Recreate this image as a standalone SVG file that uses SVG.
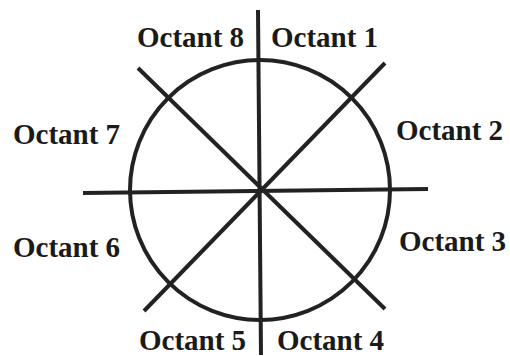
<svg xmlns="http://www.w3.org/2000/svg" width="510" height="356" viewBox="0 0 510 356">
<style>
.ln{stroke:#222;stroke-width:4;fill:none;stroke-linecap:butt}
.lb{font-family:"Liberation Serif","Times New Roman",serif;font-weight:bold;font-size:29px;fill:#1a1a1a}
</style>
<rect width="510" height="356" fill="#fff"/>
<g id="circle"><circle class="ln" cx="260" cy="190" r="130"/></g>
<g id="connectors">
<line class="ln" x1="258" y1="10" x2="261" y2="355"/>
<line class="ln" x1="83" y1="193" x2="428" y2="189"/>
<line class="ln" x1="138" y1="68" x2="385" y2="309"/>
<line class="ln" x1="385" y1="63" x2="144" y2="311"/>
</g>
<g id="o8"><text class="lb" x="137" y="47">Octant 8</text></g>
<g id="o1"><text class="lb" x="271" y="47">Octant 1</text></g>
<g id="o7"><text class="lb" x="13" y="144">Octant 7</text></g>
<g id="o2"><text class="lb" x="396" y="140">Octant 2</text></g>
<g id="o6"><text class="lb" x="13" y="257">Octant 6</text></g>
<g id="o3"><text class="lb" x="399" y="251">Octant 3</text></g>
<g id="o5"><text class="lb" x="139" y="350">Octant 5</text></g>
<g id="o4"><text class="lb" x="277" y="350">Octant 4</text></g>
</svg>
